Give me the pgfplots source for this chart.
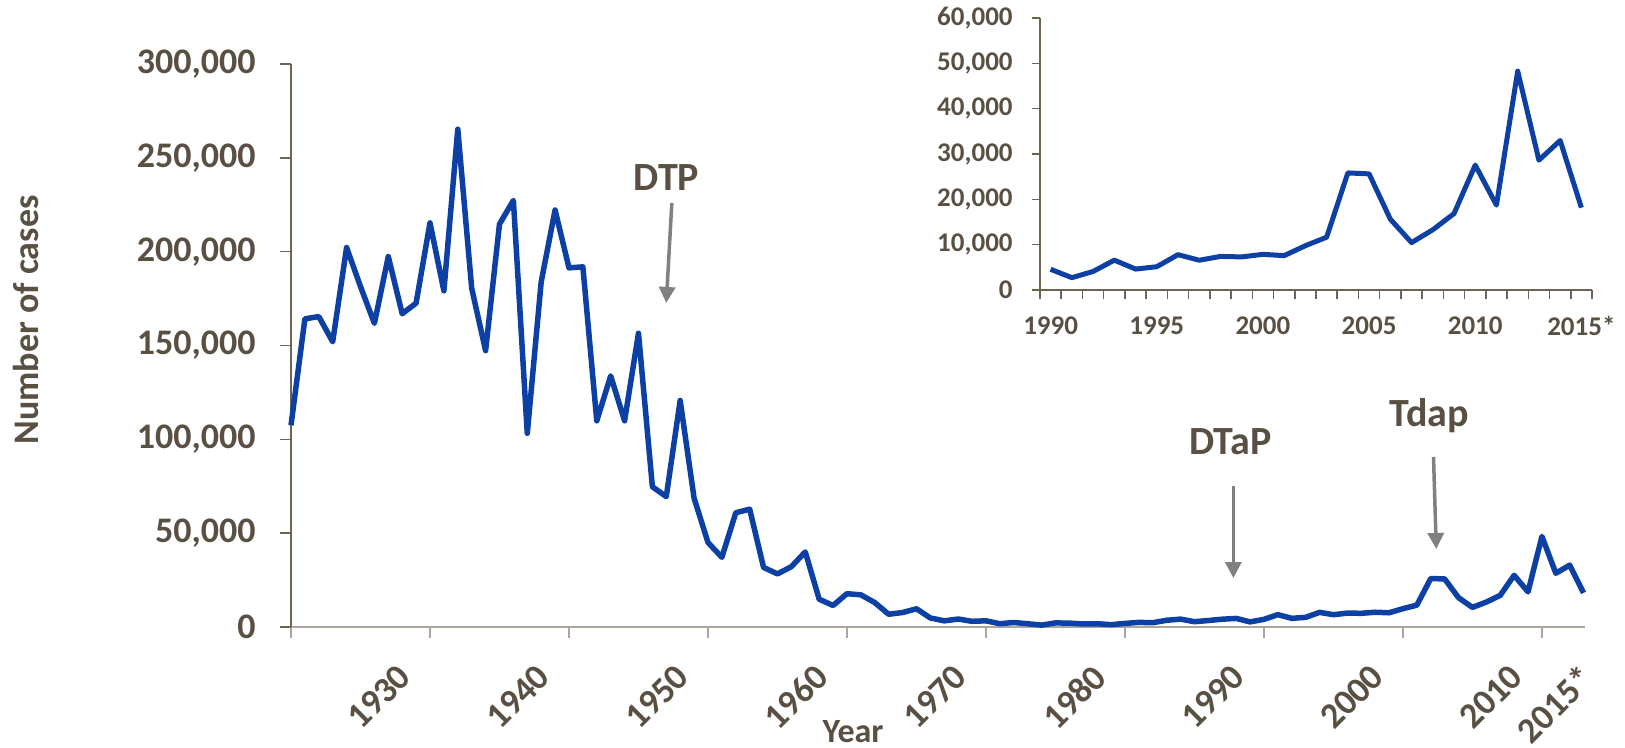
\documentclass[border=0pt]{standalone}
\usepackage{pgfplots}
\pgfplotsset{compat=1.18}
\usepackage{pgfplotstable}
\usepackage{fontspec}
\setmainfont{Carlito}
\usetikzlibrary{arrows.meta}
\definecolor{txt}{RGB}{89,80,67}
\definecolor{ser}{RGB}{13,64,165}
\definecolor{axb}{RGB}{110,99,84}
\definecolor{axg}{RGB}{170,166,156}
\definecolor{arr}{RGB}{128,128,128}

\pgfplotstableread{
year cases
1922 107473
1923 164191
1924 165418
1925 152003
1926 202210
1927 181411
1928 161799
1929 197371
1930 166914
1931 172559
1932 215343
1933 179135
1934 265269
1935 180518
1936 147237
1937 214652
1938 227319
1939 103188
1940 183866
1941 222202
1942 191383
1943 191890
1944 109873
1945 133792
1946 109860
1947 156517
1948 74715
1949 69479
1950 120718
1951 68687
1952 45030
1953 37129
1954 60886
1955 62786
1956 31732
1957 28295
1958 32148
1959 40005
1960 14809
1961 11468
1962 17749
1963 17135
1964 13005
1965 6799
1966 7717
1967 9718
1968 4810
1969 3285
1970 4249
1971 3036
1972 3287
1973 1759
1974 2402
1975 1738
1976 1010
1977 2177
1978 2063
1979 1623
1980 1730
1981 1248
1982 1895
1983 2463
1984 2276
1985 3589
1986 4195
1987 2823
1988 3450
1989 4157
1990 4570
1991 2719
1992 4083
1993 6586
1994 4617
1995 5137
1996 7796
1997 6564
1998 7405
1999 7298
2000 7867
2001 7580
2002 9771
2003 11647
2004 25827
2005 25616
2006 15632
2007 10454
2008 13278
2009 16858
2010 27550
2011 18719
2012 48277
2013 28639
2014 32971
2015 18166
}\maindata

\pgfplotstableread{
year cases
1990 4570
1991 2719
1992 4083
1993 6586
1994 4617
1995 5137
1996 7796
1997 6564
1998 7405
1999 7298
2000 7867
2001 7580
2002 9771
2003 11647
2004 25827
2005 25616
2006 15632
2007 10454
2008 13278
2009 16858
2010 27550
2011 18719
2012 48277
2013 28639
2014 32971
2015 18166
}\insetdata

\begin{document}
\begin{tikzpicture}
\useasboundingbox (-145.5bp,-60.5bp) rectangle (667bp,313.5bp);
\begin{axis}[
  at={(0,0)}, anchor=south west,
  scale only axis, width=647bp, height=281.5bp,
  xmin=1922, xmax=2015.1, ymin=0, ymax=300000,
  clip=false,
  scaled x ticks=false, scaled y ticks=false,
  axis x line*=bottom, axis y line*=left,
  x axis line style={draw=axg, line width=1.2bp, -},
  y axis line style={draw=axb, line width=0.8bp, -},
  tick align=outside,
  major tick length=5.5bp, minor tick length=5.5bp,
  xtick={1930,1940,1950,1960,1970,1980,1990,2000,2010,2015},
  xticklabels={1930,1940,1950,1960,1970,1980,1990,2000,2010,2015*},
  minor xtick={1922,1932,1942,1952,1962,1972,1982,1992,2002,2012},
  major x tick style={draw=none},
  minor x tick style={draw=axg, line width=0.8bp},
  xticklabel style={font=\fontsize{18bp}{18bp}\selectfont\bfseries, text=txt, xshift=-3bp, rotate=45, anchor=north east, inner sep=0pt},
  xticklabel shift=12bp,
  ytick={0,50000,100000,150000,200000,250000,300000},
  yticklabels={0,{50,000},{100,000},{150,000},{200,000},{250,000},{300,000}},
  ytick style={draw=axb, line width=0.8bp},
  yticklabel style={font=\fontsize{18bp}{18bp}\selectfont\bfseries, text=txt, anchor=east, inner sep=0pt},
  yticklabel shift=12bp,
]
\addplot[ser, line width=2.75bp, line join=round, no marks] table[x=year, y=cases] {\maindata};
\node[font=\fontsize{20bp}{20bp}\selectfont\bfseries, text=txt, anchor=base] at (axis cs:1949,232350) {DTP};
\draw[arr, line width=1.75bp, -{Triangle[width=8bp,length=8bp]}] (axis cs:1949.4,225950) -- (axis cs:1949.0,172660);
\node[font=\fontsize{20bp}{20bp}\selectfont\bfseries, text=txt, anchor=base] at (axis cs:1989.6,91660) {DTaP};
\draw[arr, line width=1.75bp, -{Triangle[width=8bp,length=8bp]}] (axis cs:1989.8,75140) -- (axis cs:1989.8,26110);
\node[font=\fontsize{20bp}{20bp}\selectfont\bfseries, text=txt, anchor=base] at (axis cs:2003.9,106580) {Tdap};
\draw[arr, line width=1.75bp, -{Triangle[width=8bp,length=8bp]}] (axis cs:2004.2,90590) -- (axis cs:2004.4,41570);
\end{axis}
\node[rotate=90, font=\fontsize{18bp}{18bp}\selectfont\bfseries, text=txt] at (-132.5bp,153.5bp) {Number of cases};
\node[font=\fontsize{17bp}{17bp}\selectfont\bfseries, text=txt, anchor=base] at (281bp,-57.5bp) {Year};
\begin{axis}[
  at={(374.5bp,168.5bp)}, anchor=south west,
  scale only axis, width=276bp, height=136bp,
  xmin=1989.5, xmax=2015.5, ymin=0, ymax=60000,
  clip=false,
  scaled x ticks=false, scaled y ticks=false,
  axis x line*=bottom, axis y line*=left,
  axis line style={draw=axb, line width=0.8bp, -},
  tick align=outside,
  major tick length=4bp, minor tick length=4.5bp,
  xtick={1990,1995,2000,2005,2010,2015},
  xticklabels={1990,1995,2000,2005,2010,2015*},
  minor xtick={1989.5,1990.5,...,2015.5},
  major x tick style={draw=none},
  minor x tick style={draw=axb, line width=0.8bp},
  xticklabel style={font=\fontsize{13.5bp}{13.5bp}\selectfont\bfseries, text=txt, anchor=north, inner sep=0pt},
  xticklabel shift=9bp,
  ytick={0,10000,20000,30000,40000,50000,60000},
  yticklabels={0,{10,000},{20,000},{30,000},{40,000},{50,000},{60,000}},
  ytick style={draw=axb, line width=0.8bp},
  yticklabel style={font=\fontsize{13.5bp}{13.5bp}\selectfont\bfseries, text=txt, anchor=east, inner sep=0pt},
  yticklabel shift=9.5bp,
]
\addplot[ser, line width=2.5bp, line join=round, no marks] table[x=year, y=cases] {\insetdata};
\end{axis}
\end{tikzpicture}
\end{document}
